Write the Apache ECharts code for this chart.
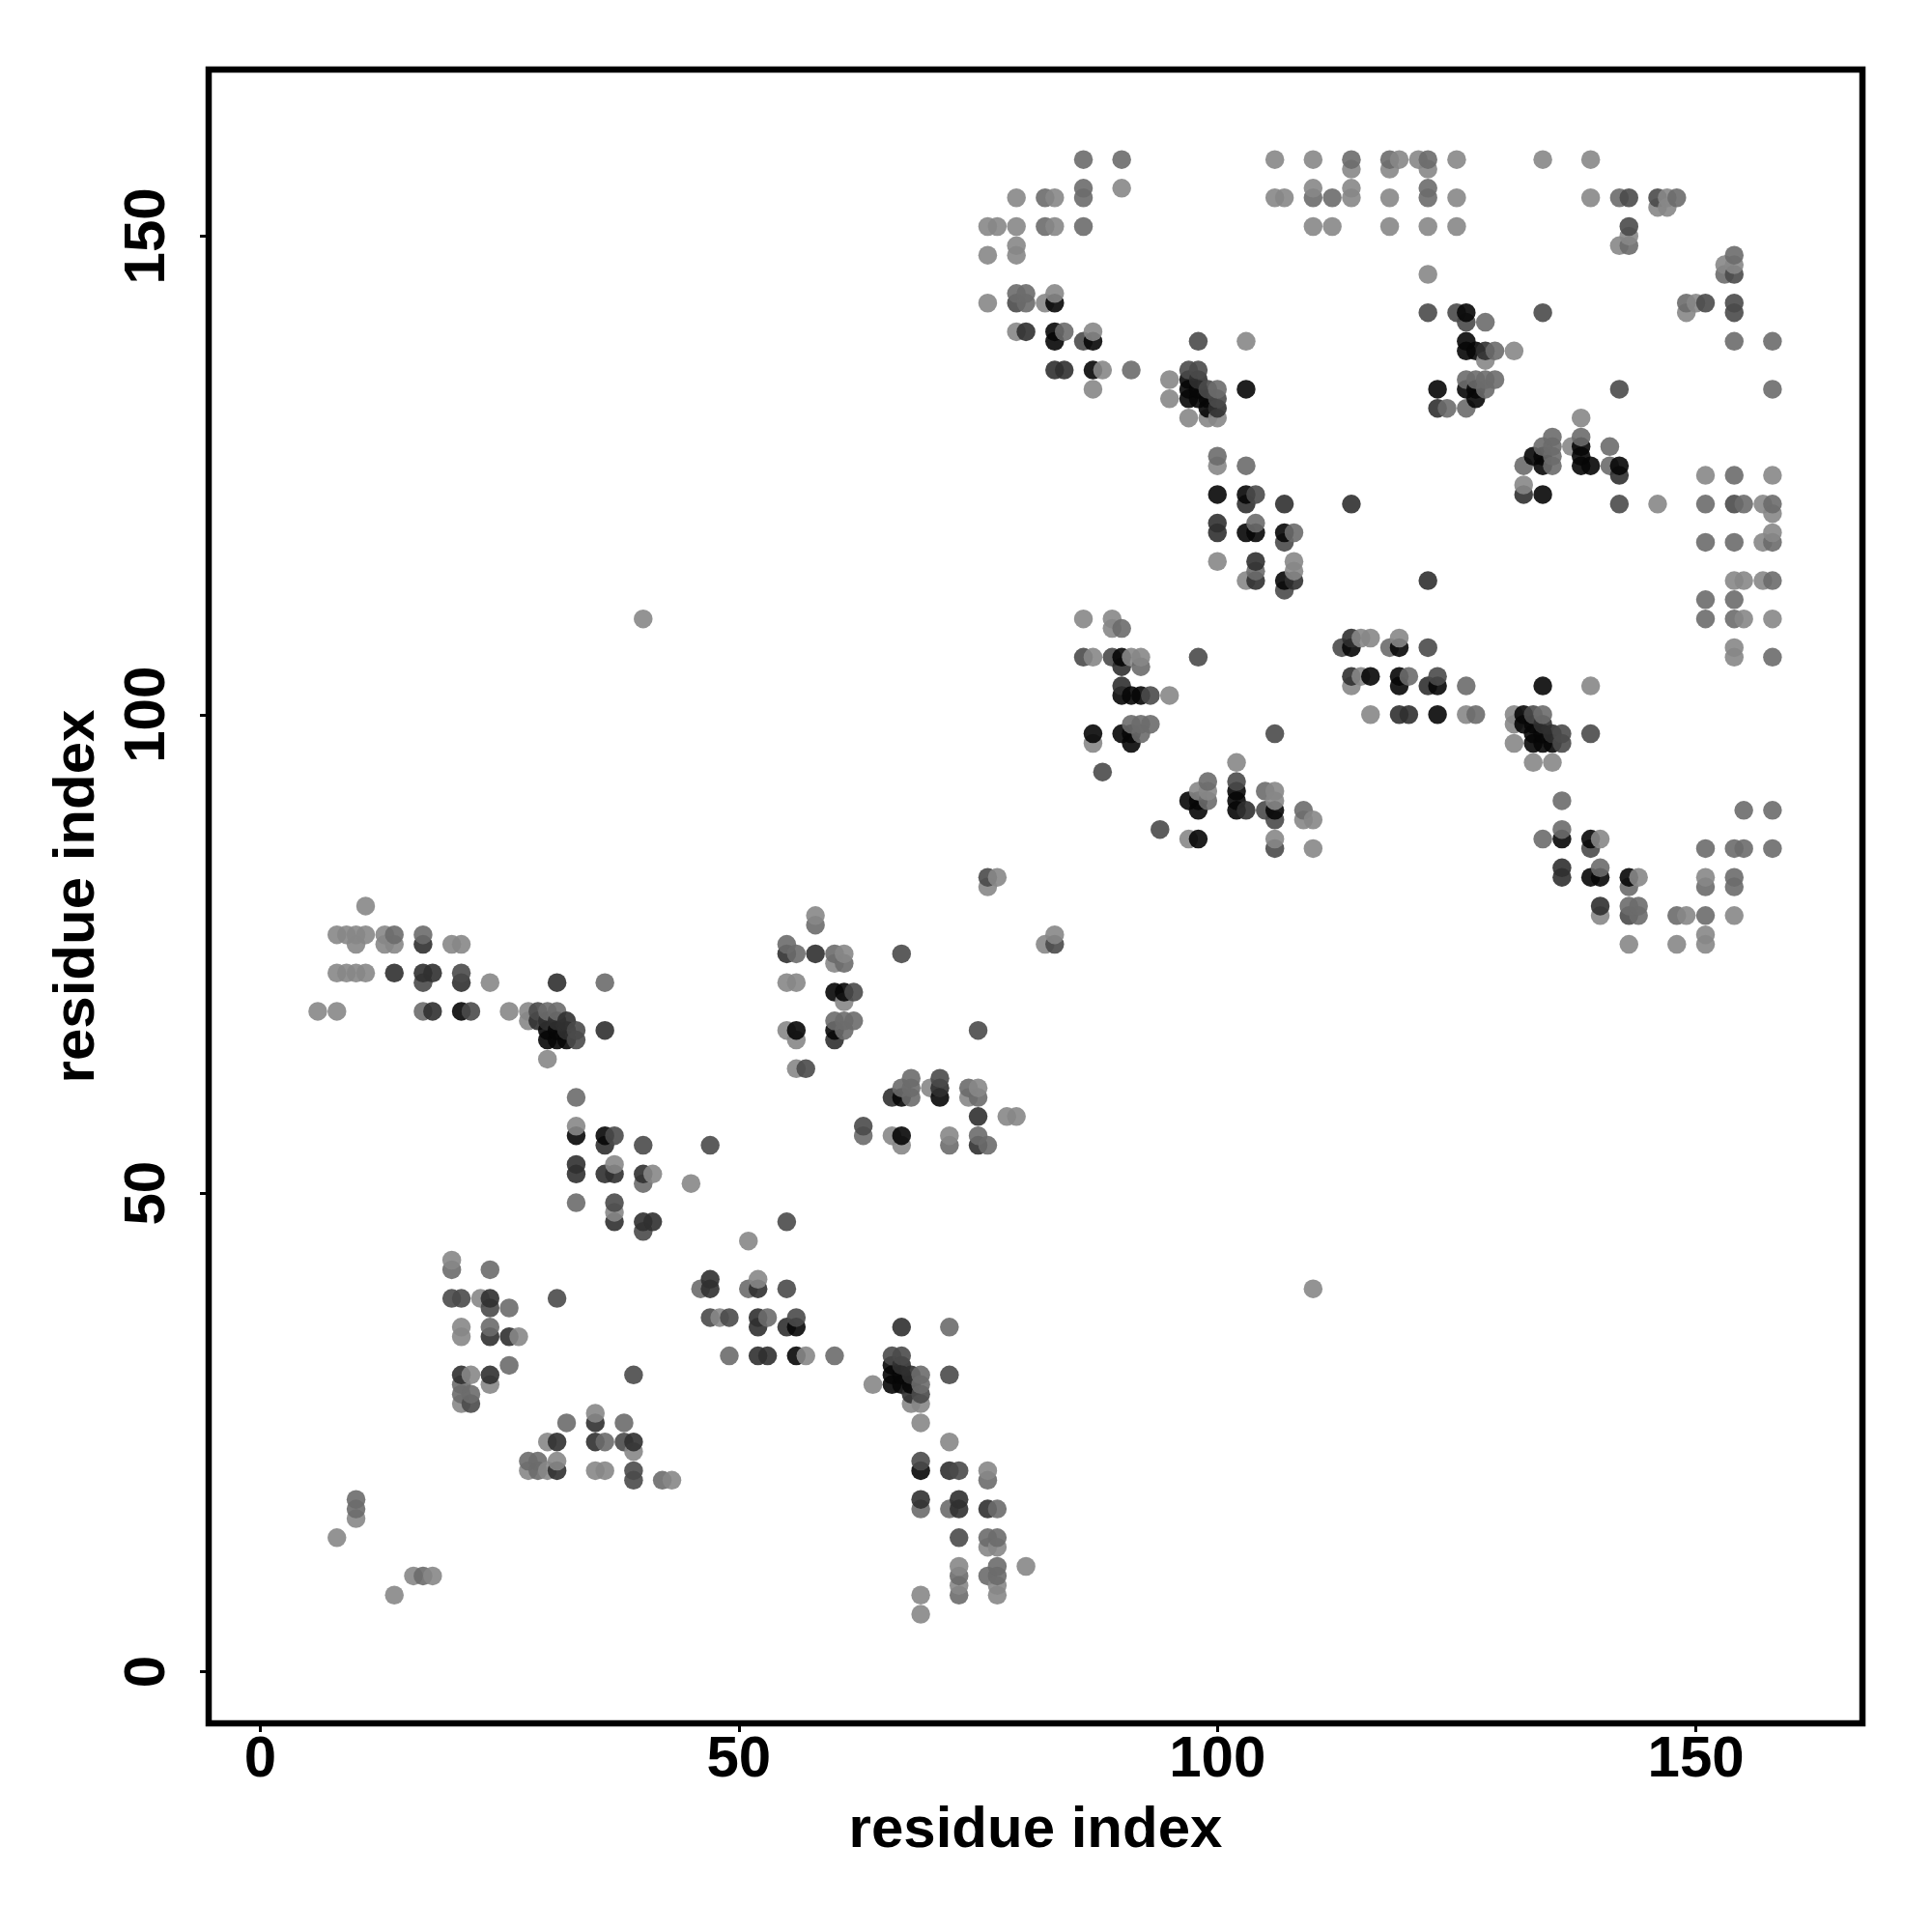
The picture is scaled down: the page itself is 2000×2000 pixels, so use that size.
<!DOCTYPE html>
<html>
<head>
<meta charset="utf-8">
<style>html,body{margin:0;padding:0;background:#fff}#c{width:2000px;height:2000px}</style>
<script src="https://cdn.jsdelivr.net/npm/echarts@6/dist/echarts.min.js"></script>
</head>
<body>
<div id="c"></div>
<script>
// each contact: [residue x, residue y, level] (level 1 = weakest / lightest, 5 = strongest / darkest)
const tickValues = [0, 50, 100, 150];
const axisTitle = "residue index";

const blockUpperLeft = [
[11,80,1],[8,77,1],[9,77,1],[10,77,1],[11,77,1],[13,77,1],[14,77,2],[17,77,2],
[10,76,1],[13,76,1],[14,76,1],[17,76,4],[20,76,1],[21,76,1],
[8,73,1],[9,73,1],[10,73,1],[11,73,1],[14,73,4],[17,73,4],[18,73,4],[21,73,3],
[17,72,3],[21,72,4],[24,72,1],[31,72,4],[36,72,2],
[6,69,1],[8,69,1],[17,69,2],[18,69,4],[21,69,5],[22,69,3],[26,69,1],[28,69,1],[29,69,3],[30,69,2],[31,69,2],
[28,68,1],[29,68,4],[30,68,4],[31,68,4],[32,68,4],
[30,67,5],[31,67,5],[32,67,4],[33,67,3],[36,67,4],
[30,66,5],[31,66,5],[32,66,5],[33,66,3],[30,64,1]
];
const blockStrandA = [
[33,60,2],[33,57,1],[33,56,5],[36,56,5],[37,56,3],[36,55,4],[40,55,3],
[33,53,4],[37,53,1],[33,52,4],[36,52,4],[37,52,4],[40,52,4],[41,52,1],[40,51,2],
[33,49,2],[37,49,3],[37,48,1],[37,47,4],[40,47,4],[41,47,4],[40,46,3]
];
const blockLowerLeft = [
[20,43,1],[20,42,2],[24,42,2],
[20,39,3],[21,39,3],[23,39,1],[24,39,4],[31,39,3],[24,38,3],[26,38,2],
[21,36,1],[24,36,2],[21,35,1],[24,35,4],[26,35,4],[27,35,1],[26,32,2],
[21,31,4],[22,31,1],[24,31,4],[39,31,3],[21,30,2],[24,30,1],[21,29,2],[22,29,2],[21,28,1],[22,28,3],
[35,27,1],[32,26,2],[35,26,4],[38,26,2],
[30,24,1],[31,24,4],[35,24,4],[36,24,2],[38,24,3],[39,24,4],[39,23,1],
[28,22,2],[29,22,2],[31,22,1],[28,21,1],[29,21,2],[30,21,1],[31,21,4],[35,21,1],[36,21,1],[39,21,3],
[39,20,3],[42,20,2],[43,20,1],
[10,18,2],[10,17,2],[10,16,1],[8,14,1],[16,10,1],[17,10,2],[18,10,1],[14,8,1]
];
const blockMiddleUpper = [
[58,79,1],[58,78,2],[55,76,2],[55,75,4],[56,75,2],[58,75,4],[60,75,2],[61,75,1],[67,75,3],[60,74,1],[61,74,2],
[82,76,1],[83,77,1],[83,76,3],[55,72,1],[56,72,1],
[60,71,5],[61,71,5],[62,71,3],[61,70,1],[60,68,2],[61,68,2],[62,68,2],
[55,67,1],[56,67,5],[60,67,5],[61,67,2],[75,67,3],[56,66,1],[60,66,4],[56,63,1],[57,63,3],
[68,62,2],[71,62,3],[67,61,2],[68,61,2],[70,61,1],[71,61,4],[74,61,2],[75,61,1],
[66,60,4],[67,60,5],[68,60,2],[71,60,5],[74,60,1],[75,60,2],
[75,58,4],[78,58,1],[79,58,1],[63,57,3],[63,56,2],[66,56,1],[67,56,5],[72,56,1],[75,56,2],
[47,55,3],[67,55,1],[72,55,2],[75,55,4],[76,55,2],[45,51,1],[55,47,3],[51,45,1],
[76,83,3],[77,83,1],[76,82,1]
];
const blockMiddleLower = [
[52,41,1],[47,41,4],[46,40,2],[47,40,4],[51,40,2],[52,40,4],[55,40,3],
[47,37,3],[48,37,1],[49,37,3],[52,37,4],[53,37,2],[56,37,3],
[52,36,4],[55,36,4],[56,36,5],[67,36,4],[72,36,2],
[49,33,2],[52,33,4],[53,33,4],[56,33,5],[57,33,1],[60,33,2],[66,33,3],[67,33,3],
[66,32,5],[67,32,4],[66,31,5],[67,31,5],[68,31,4],[69,31,2],[72,31,3],
[64,30,1],[66,30,5],[67,30,5],[68,30,5],[69,30,2],[68,29,4],[69,29,3],[68,28,1],[69,28,1],
[69,26,1],[72,24,1],[69,22,3],[69,21,5],[72,21,4],[73,21,3],[76,21,1],[76,20,2],
[69,18,4],[73,18,4],[69,17,2],[72,17,2],[73,17,4],[76,17,4],[77,17,2],
[73,14,3],[76,14,2],[77,14,2],[76,13,1],[77,13,1],[73,11,1],[77,11,2],[80,11,1],
[73,10,2],[76,10,2],[77,10,2],[73,9,1],[77,9,1],[69,8,1],[73,8,2],[77,8,1],[69,6,1]
];
const blockTopLeft = [
[86,158,2],[90,158,2],[106,158,1],[86,155,2],[90,155,1],
[79,154,1],[82,154,2],[83,154,1],[86,154,2],[106,154,1],[107,154,1],
[76,151,1],[77,151,1],[79,151,1],[82,151,2],[83,151,1],[86,151,2],
[79,149,1],[76,148,1],[79,148,1],[79,144,2],[80,144,2],[83,144,1],
[76,143,1],[79,143,3],[80,143,2],[82,143,1],[83,143,5],
[79,140,1],[80,140,4],[83,140,5],[84,140,2],[87,140,1],[83,139,5],[86,139,3],[87,139,5],[98,139,3],[103,139,1],
[83,136,4],[84,136,4],[87,136,5],[88,136,1],[91,136,2],[97,136,3],[98,136,3],
[95,135,1],[97,135,5],[98,135,4],[87,134,1],[97,134,5],[98,134,5],[99,134,3],[100,134,2],[103,134,5],
[95,133,1],[97,133,5],[98,133,5],[99,133,5],[100,133,3],[99,132,5],[100,132,4],
[97,131,1],[99,131,1],[100,131,1],[100,127,2],[100,126,1],[103,126,2],
[100,123,5],[103,123,5],[104,123,3],[103,122,4],[107,122,4]
];
const blockTopRight = [
[110,158,1],[114,158,2],[118,158,2],[119,158,1],[121,158,1],[122,158,2],[125,158,1],[134,158,1],[139,158,1],
[114,157,1],[118,157,1],[122,157,1],[110,155,1],[114,155,1],[122,155,2],
[110,154,2],[112,154,2],[114,154,1],[118,154,1],[122,154,2],[125,154,1],[139,154,1],[142,154,2],[143,154,3],[146,154,3],[147,154,1],[148,154,2],
[146,153,1],[147,153,1],[110,151,1],[112,151,1],[118,151,1],[122,151,1],[125,151,1],[143,151,3],
[143,150,1],[142,149,1],[143,149,2],[154,148,2],[153,147,1],[154,147,1],[122,146,1],[153,146,2],[154,146,3],
[149,143,2],[150,143,1],[151,143,3],[154,143,3],
[122,142,3],[125,142,3],[126,142,5],[134,142,3],[149,142,1],[154,142,3],[126,141,3],[128,141,2],
[126,139,5],[154,139,2],[158,139,2],[126,138,5],[127,138,5],[128,138,4],[129,138,2],[131,138,1],[128,137,1],
[126,135,2],[127,135,2],[128,135,2],[129,135,2],
[123,134,5],[126,134,5],[127,134,5],[128,134,2],[142,134,3],[158,134,2],[127,133,5],
[123,132,4],[124,132,2],[126,132,2],[138,131,1],[135,129,2],[138,129,2],
[134,128,2],[135,128,2],[137,128,1],[138,128,5],[141,128,2],[133,127,5],[134,127,5],[135,127,2],[138,127,5],
[132,126,2],[134,126,5],[135,126,2],[138,126,5],[139,126,5],[141,126,2],[142,126,5],
[142,125,4],[151,125,1],[154,125,2],[158,125,1],[132,124,1],[132,123,4],[134,123,5],
[114,122,4],[142,122,3],[146,122,1],[151,122,2],[154,122,3],[155,122,2],[157,122,1],[158,122,2],
[158,121,1],[158,119,1],[151,118,2],[154,118,2],[157,118,1],[158,118,2],
[122,114,4],[154,114,1],[155,114,1],[157,114,1],[158,114,2],[151,112,2],[154,112,2],
[151,110,2],[154,110,2],[155,110,1],[158,110,1],[154,107,1],[154,106,1],[158,106,2]
];
const blockCentre = [
[100,120,4],[104,120,2],[100,119,4],[103,119,5],[104,119,5],[107,119,5],[108,119,2],[107,118,3],
[100,116,1],[104,116,4],[108,116,1],[104,115,2],[108,115,1],[103,114,1],[104,114,4],[107,114,5],[108,114,4],[107,113,3],
[86,110,1],[89,110,1],[89,109,1],[90,109,2],[114,108,4],[115,108,1],[116,108,1],[119,108,1],
[113,107,3],[114,107,5],[118,107,2],[119,107,5],[122,107,3],
[86,106,3],[87,106,1],[89,106,3],[90,106,5],[91,106,1],[92,106,1],[98,106,3],[90,105,4],[92,105,2],
[114,104,4],[115,104,1],[116,104,5],[119,104,5],[120,104,2],[123,104,3],[90,103,4],[114,103,1],[119,103,5],[122,103,4],[123,103,5],[126,103,2],[134,103,5],[139,103,1],
[90,102,5],[91,102,5],[92,102,5],[93,102,3],[95,102,1],
[116,100,1],[119,100,4],[120,100,4],[123,100,5],[126,100,1],[127,100,2],
[131,100,1],[132,100,5],[133,100,3],[134,100,2],[91,99,2],[92,99,2],[93,99,2],[131,99,1],[132,99,5],[133,99,5],[134,99,4],
[87,98,5],[90,98,5],[91,98,5],[92,98,2],[106,98,3],[133,98,5],[134,98,5],[135,98,4],[136,98,3],[139,98,3],
[87,97,1],[91,97,5],[131,97,1],[133,97,5],[134,97,5],[135,97,5],[136,97,3],
[102,95,1],[133,95,1],[135,95,1],[88,94,3],[99,93,2],[102,93,3],
[98,92,1],[99,92,1],[102,92,5],[105,92,2],[106,92,1],[97,91,5],[98,91,5],[99,91,2],[102,91,5],[106,91,1],[136,91,2],
[98,90,5],[102,90,5],[103,90,4],[105,90,3],[106,90,5],[109,90,2],[155,90,2],[158,90,2],
[106,89,3],[109,89,1],[110,89,1],[94,88,3],[136,88,2],
[97,87,1],[98,87,5],[106,87,1],[134,87,2],[136,87,5],[139,87,5],[140,87,1],
[106,86,3],[110,86,1],[139,86,3],[151,86,2],[154,86,2],[155,86,2],[158,86,2]
];
const blockLowerRight = [
[136,84,4],[140,84,2],[136,83,4],[139,83,5],[140,83,5],[143,83,5],[144,83,1],[151,83,1],[154,83,2],
[143,82,2],[151,82,2],[154,82,2],[140,80,4],[143,80,2],[144,80,2],
[140,79,1],[143,79,3],[144,79,2],[148,79,2],[149,79,1],[151,79,2],[154,79,1],
[151,77,1],[143,76,1],[148,76,1],[151,76,1]
];
const isolatedPairs = [[40,110,1],[110,40,1]];

const levelColors = ["#878787", "#6b6b6b", "#4a4a4a", "#303030", "#070707"];

const contacts = [].concat(blockUpperLeft, blockStrandA, blockLowerLeft, blockMiddleUpper,
  blockMiddleLower, blockTopLeft, blockTopRight, blockCentre, blockLowerRight, isolatedPairs)
  .sort((a, b) => a[0] - b[0] || a[1] - b[1]);

const fontFamily = '"Liberation Sans", Arial, sans-serif';
const axisCommon = {
  type: "value",
  min: -5.4,
  max: 167.4,
  name: axisTitle,
  nameLocation: "middle",
  nameTextStyle: { color: "#000", fontFamily, fontWeight: "bold", fontSize: 60 },
  splitLine: { show: false },
  axisLine: { show: false, onZero: false },
  axisTick: { show: true, inside: false, length: 9, lineStyle: { color: "#000", width: 3 }, customValues: tickValues },
};

const chart = echarts.init(document.getElementById("c"), null, { renderer: "canvas", width: 2000, height: 2000 });
chart.setOption({
  animation: false,
  backgroundColor: "#fff",
  grid: { left: 216, top: 72, width: 1712, height: 1712, show: true, borderColor: "#000", borderWidth: 6.5, backgroundColor: "transparent", containLabel: false },
  xAxis: Object.assign({}, axisCommon, {
    nameGap: 81,
    axisLabel: { customValues: tickValues, color: "#000", fontFamily, fontWeight: "bold", fontSize: 60, margin: 8 },
  }),
  yAxis: Object.assign({}, axisCommon, {
    nameGap: 106,
    nameRotate: 90,
    axisLabel: { customValues: tickValues, rotate: 90, color: "#000", fontFamily, fontWeight: "bold", fontSize: 60, margin: 33 },
  }),
  series: [{
    type: "scatter",
    symbol: "circle",
    symbolSize: 19.5,
    progressive: 0,
    large: false,
    silent: true,
    clip: false,
    data: contacts,
    itemStyle: { opacity: 0.9, color: p => levelColors[p.value[2] - 1] },
  }],
});
</script>
</body>
</html>
